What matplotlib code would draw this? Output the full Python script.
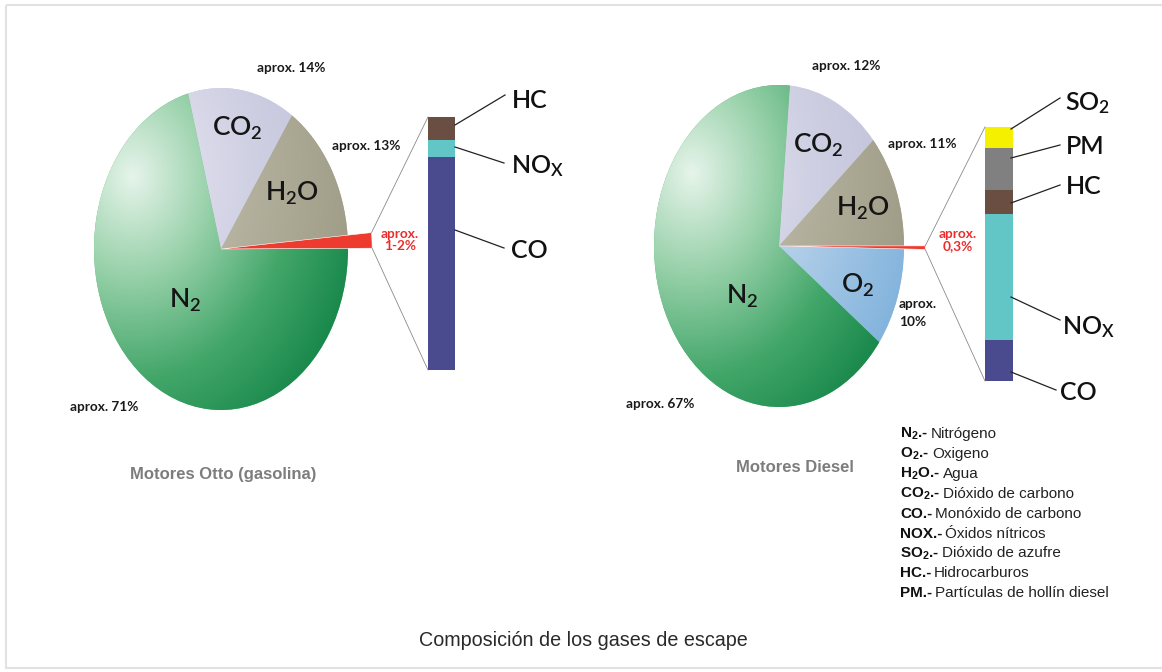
import numpy as np
import matplotlib
matplotlib.use("Agg")
import matplotlib.pyplot as plt
from matplotlib.colors import LinearSegmentedColormap
from matplotlib.patches import Rectangle
from matplotlib import font_manager

W, H = 1162, 672

# Motores Otto (gasolina): pie shares, clockwise from the top
otto_gases = ["CO2", "H2O", "otros", "N2"]
otto_share = [13.6, 14.2, 1.3, 70.9]
otto_rest = ["HC", "NOx", "CO"]          # stacked bar, top to bottom
otto_rest_share = [9.0, 7.0, 84.0]

# Motores Diesel
diesel_gases = ["CO2", "H2O", "otros", "O2", "N2"]
diesel_share = [12.2, 11.4, 0.3, 9.9, 66.2]
diesel_rest = ["SO2", "PM", "HC", "NOx", "CO"]
diesel_rest_share = [8.3, 16.5, 9.5, 49.7, 16.0]

legend_abbr = ["N$_2$.-", "O$_2$.-", "H$_2$O.-", "CO$_2$.-", "CO.-", "NOX.-",
               "SO$_2$.-", "HC.-", "PM.-"]
legend_desc = ["Nitrógeno", "Oxigeno", "Agua", "Dióxido de carbono",
               "Monóxido de carbono", "Óxidos nítricos", "Dióxido de azufre",
               "Hidrocarburos", "Partículas de hollín diesel"]

tex = {"CO2": "CO$_2$", "H2O": "H$_2$O", "N2": "N$_2$", "O2": "O$_2$",
       "NOx": "NO$_X$", "SO2": "SO$_2$", "HC": "HC", "PM": "PM", "CO": "CO"}

solid = {"CO2": "#d0d0e2", "H2O": "#b0b09a", "N2": "#5cb47c", "O2": "#a8c8e4",
         "otros": "#ee3b2f"}
ramps = {"N2": ["#e6f4ea", "#96d0a8", "#42a669", "#158548"],
         "CO2": ["#e8e8f2", "#d0d0e4", "#bcbcd6"],
         "H2O": ["#cfcfbd", "#b2b09c", "#9c9a84"],
         "O2": ["#dceaf6", "#b0cee8", "#80b2dc"]}
bar_col = {"HC": "#6b4e42", "NOx": "#62c6c6", "CO": "#4a4a8e",
           "SO2": "#f4f000", "PM": "#808080"}

plt.rcParams["mathtext.default"] = "regular"
LABEL_FONT = "Lato"
try:
    font_manager.findfont("Liberation Sans Narrow", fallback_to_default=False)
    LEG_FONT, LEG_SIZE = "Liberation Sans Narrow", 12.5
except ValueError:
    LEG_FONT, LEG_SIZE = "Liberation Sans", 11

LIM = 1.3
xs = np.linspace(-LIM, LIM, 400)
X, Y = np.meshgrid(xs, xs)
T = np.clip(np.hypot(X + 0.7, Y - 0.45) / 1.9, 0, 1)


def px_axes(fig, x0, y0, x1, y1):
    return fig.add_axes([x0 / W, 1 - y1 / H, (x1 - x0) / W, (y1 - y0) / H])


def draw_pie(fig, cx, cy, rx, ry, gases, shares, start, tip_r):
    pax = px_axes(fig, cx - LIM * rx, cy - LIM * ry, cx + LIM * rx, cy + LIM * ry)
    wedges, _ = pax.pie(shares, startangle=start, counterclock=False,
                        colors=[solid[g] for g in gases],
                        wedgeprops=dict(linewidth=0))
    pax.set_aspect("auto")
    pax.set_xlim(-LIM, LIM)
    pax.set_ylim(-LIM, LIM)
    pax.axis("off")
    for w, g in zip(wedges, gases):
        if g in ramps:
            cmap = LinearSegmentedColormap.from_list(g, ramps[g])
            img = pax.imshow(cmap(T), extent=(-LIM, LIM, -LIM, LIM), origin="lower",
                             aspect="auto", interpolation="bilinear",
                             zorder=w.get_zorder() + 0.1)
            img.set_clip_path(w)
        else:
            w.set_radius(tip_r)
            w.set_zorder(5)
            w.set_edgecolor("white")
            w.set_linewidth(0.4)
    return pax, wedges[gases.index("otros")]


def draw_bar(fig, x0, y0, x1, y1, names, shares):
    bax = px_axes(fig, x0, y0, x1, y1)
    bottom = 0
    for n, v in zip(names[::-1], shares[::-1]):
        bax.bar(0, v, bottom=bottom, width=1, color=bar_col[n], linewidth=0)
        bottom += v
    bax.set_xlim(-0.5, 0.5)
    bax.set_ylim(0, bottom)
    bax.axis("off")
    return bax


fig = plt.figure(figsize=(W / 100, H / 100), dpi=100)
fig.patch.set_facecolor("white")

pax1, tip1 = draw_pie(fig, 221, 249, 127, 161, otto_gases, otto_share, 105, 1.19)
pax2, tip2 = draw_pie(fig, 779, 246, 125, 161, diesel_gases, diesel_share, 85, 1.17)
bax1 = draw_bar(fig, 428, 117, 455, 370, otto_rest, otto_rest_share)
bax2 = draw_bar(fig, 985, 127, 1013, 381, diesel_rest, diesel_rest_share)

ax = fig.add_axes([0, 0, 1, 1])
ax.set_xlim(0, W)
ax.set_ylim(H, 0)
ax.patch.set_alpha(0)
ax.axis("off")
ax.add_patch(Rectangle((6, 5), W, 663, fill=False, edgecolor="#e2e2e2", lw=1.5))

inv = ax.transData.inverted()
# zoom lines from the small wedge to the bar
for pax, tip, bax in [(pax1, tip1, bax1), (pax2, tip2, bax2)]:
    for ang, corner in [(tip.theta2, (0, 1)), (tip.theta1, (0, 0))]:
        p = inv.transform(pax.transData.transform(
            (tip.r * np.cos(np.radians(ang)), tip.r * np.sin(np.radians(ang)))))
        q = inv.transform(bax.transAxes.transform(corner))
        ax.plot([p[0], q[0]], [p[1], q[1]], color="#8a8a8a", lw=0.6)

# labels of the stacked bars with leader lines
bar_labels = [
    ("HC", (455, 125), (505, 95), (512, 100)),
    ("NOx", (455, 147), (504, 163), (511, 166)),
    ("CO", (455, 230), (504, 248), (511, 250)),
    ("SO2", (1011, 129), (1060, 98), (1065, 103)),
    ("PM", (1011, 158), (1060, 145), (1066, 147)),
    ("HC", (1011, 203), (1060, 185), (1066, 187)),
    ("NOx", (1011, 297), (1060, 320), (1062, 327)),
    ("CO", (1011, 372), (1056, 390), (1060, 393)),
]
for name, a, b, t in bar_labels:
    ax.plot([a[0], b[0]], [a[1], b[1]], color="#222222", lw=0.9)
    ax.text(t[0], t[1], tex[name], ha="left", va="center", fontsize=18,
            family=LABEL_FONT, fontweight="semibold", color="#111111")

# names inside the pies
pie_names = [("CO2", 237, 128), ("H2O", 292, 193), ("N2", 185, 300),
             ("CO2", 818, 145), ("H2O", 863, 208), ("O2", 858, 285), ("N2", 742, 296)]
for g, x, y in pie_names:
    ax.text(x, y, tex[g], ha="center", va="center", fontsize=19,
            family=LABEL_FONT, fontweight="semibold", color="#151515")

# approximate shares
approx = [("aprox. 14%", 291, 68, "center"), ("aprox. 13%", 366, 146, "center"),
          ("aprox. 71%", 104, 407, "center"), ("aprox. 12%", 846, 66, "center"),
          ("aprox. 11%", 922, 144, "center"), ("aprox. 67%", 660, 404, "center"),
          ("aprox.\n10%", 899, 313, "left")]
for s, x, y, ha in approx:
    ax.text(x, y, s, ha=ha, va="center", fontsize=9.8, family=LABEL_FONT,
            fontweight="bold", color="#1a1a1a", linespacing=1.5)
for s, x, y in [("aprox.\n1-2%", 400, 240), ("aprox.\n0,3%", 958, 240)]:
    ax.text(x, y, s, ha="center", va="center", fontsize=9.8, family=LABEL_FONT,
            fontweight="bold", color="#ee2b2b", linespacing=0.95)

ax.text(223, 474, "Motores Otto (gasolina)", ha="center", va="center", fontsize=12,
        family="Liberation Sans", fontweight="bold", color="#7d7d7d")
ax.text(795, 467, "Motores Diesel", ha="center", va="center", fontsize=12,
        family="Liberation Sans", fontweight="bold", color="#7d7d7d")

for i, (abbr, desc) in enumerate(zip(legend_abbr, legend_desc)):
    y = 438 + i * 19.9
    b = ax.text(900, y, abbr, ha="left", va="baseline", fontsize=LEG_SIZE,
                family=LEG_FONT, fontweight="bold", color="#111111")
    ax.annotate(desc, xy=(1, y), xycoords=(b, "data"), xytext=(2, 0),
                textcoords="offset points", ha="left", va="baseline",
                fontsize=LEG_SIZE, family=LEG_FONT, color="#222222")

ax.text(583, 640, "Composición de los gases de escape", ha="center", va="center",
        fontsize=14.2, family="Liberation Sans", color="#2a2a2a")

fig.savefig("out.png", dpi=100, facecolor="white")
